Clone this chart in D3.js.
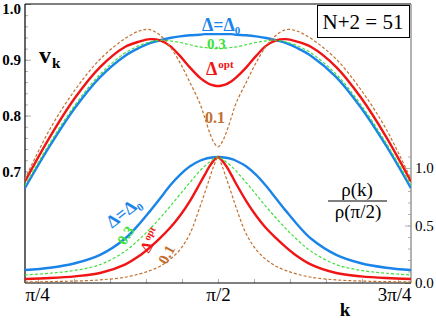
<!DOCTYPE html>
<html>
<head>
<meta charset="utf-8">
<script src="https://cdn.jsdelivr.net/npm/d3@7"></script>
<style>
  body { margin: 0; background: #fff; }
  svg text { font-family: "Liberation Serif", "Times New Roman", "DejaVu Serif", serif; }
</style>
</head>
<body>
<div id="chart"></div>
<script>
// k values (radians), pi/4 .. 3pi/4
var kVals = [0.785,0.887,0.989,1.091,1.192,1.253,1.294,1.335,1.375,1.416,1.457,1.497,1.518,1.538,1.554,1.571,
             1.587,1.603,1.624,1.644,1.685,1.726,1.766,1.807,1.848,1.889,1.950,2.052,2.153,2.255,2.356];

// upper curves, v_k (left axis)
var vBlue  = [0.670,0.746,0.814,0.869,0.907,0.922,0.930,0.935,0.939,0.942,0.944,0.945,0.946,0.946,0.946,0.946,
              0.946,0.946,0.946,0.945,0.944,0.942,0.939,0.935,0.930,0.922,0.907,0.869,0.814,0.746,0.670];
var vGreen = [0.675,0.751,0.819,0.874,0.912,0.926,0.932,0.935,0.934,0.931,0.927,0.923,0.922,0.921,0.920,0.920,
              0.920,0.921,0.922,0.923,0.927,0.931,0.934,0.935,0.932,0.926,0.912,0.874,0.819,0.751,0.675];
var vRed   = [0.682,0.762,0.832,0.887,0.923,0.933,0.937,0.935,0.925,0.907,0.886,0.868,0.861,0.856,0.854,0.853,
              0.854,0.856,0.861,0.868,0.886,0.907,0.925,0.935,0.937,0.933,0.923,0.887,0.832,0.762,0.682];
var vBrown = [0.686,0.776,0.846,0.901,0.938,0.952,0.954,0.944,0.924,0.895,0.859,0.822,0.795,0.768,0.752,0.744,
              0.752,0.768,0.795,0.822,0.859,0.895,0.924,0.944,0.954,0.952,0.938,0.901,0.846,0.776,0.686];

// lower curves, rho(k)/rho(pi/2) (right axis)
var rBlue  = [0.113,0.133,0.172,0.245,0.385,0.520,0.625,0.735,0.845,0.940,1.015,1.063,1.079,1.089,1.094,1.096,
              1.094,1.089,1.079,1.063,1.015,0.940,0.845,0.735,0.625,0.520,0.385,0.245,0.172,0.133,0.113];
var rGreen = [0.070,0.085,0.110,0.160,0.275,0.385,0.470,0.565,0.665,0.770,0.875,0.975,1.018,1.055,1.080,1.096,
              1.080,1.055,1.018,0.975,0.875,0.770,0.665,0.565,0.470,0.385,0.275,0.160,0.110,0.085,0.070];
var rRed   = [0.035,0.043,0.058,0.087,0.160,0.240,0.310,0.390,0.478,0.585,0.715,0.865,0.945,1.020,1.066,1.096,
              1.066,1.020,0.945,0.865,0.715,0.585,0.478,0.390,0.310,0.240,0.160,0.087,0.058,0.043,0.035];
var rBrown = [0.009,0.012,0.017,0.027,0.050,0.080,0.108,0.145,0.205,0.290,0.430,0.660,0.790,0.920,1.020,1.096,
              1.020,0.920,0.790,0.660,0.430,0.290,0.205,0.145,0.108,0.080,0.050,0.027,0.017,0.012,0.009];

var leftTicks = [0.7, 0.8, 0.9, 1.0];
var rightTicks = [0.0, 0.5, 1.0];
var xTickVals = [Math.PI/4, Math.PI/2, 3*Math.PI/4];
var xTickLabels = ['\u03c0/4', '\u03c0/2', '3\u03c0/4'];

var W = 436, H = 320;
var box = {left: 25, right: 411, top: 4, bottom: 283};
var serif = '"Liberation Serif", "Times New Roman", serif';

var svg = d3.select('#chart').append('svg')
    .attr('width', W).attr('height', H);

var x = d3.scaleLinear().domain([Math.PI/4, 3*Math.PI/4]).range([box.left, box.right]);
var yL = d3.scaleLinear().domain([0.5, 1.0]).range([box.bottom, box.top]);
var yR = d3.scaleLinear().domain([0, 1.0]).range([box.bottom, 168]);

svg.append('clipPath').attr('id', 'clip').append('rect')
    .attr('x', box.left).attr('y', box.top)
    .attr('width', box.right - box.left).attr('height', box.bottom - box.top);

var tickGray = '#b0b0b0';

function styleAxis(g){
    g.select('.domain').remove();
    g.selectAll('.tick line').attr('stroke', tickGray);
}

// left axis
svg.append('g').attr('transform', 'translate(' + box.left + ',0)')
    .call(d3.axisLeft(yL).tickValues(d3.range(0.7, 1.001, 0.02)).tickSize(-3).tickFormat(''))
    .call(styleAxis);
svg.append('g').attr('transform', 'translate(' + box.left + ',0)')
    .call(d3.axisLeft(yL).tickValues(leftTicks).tickSize(-6).tickPadding(4).tickFormat(d3.format('.1f')))
    .call(styleAxis)
    .call(g => g.selectAll('text').attr('font-size', '15px').attr('font-weight', 'bold')
        .attr('fill', '#000').style('font-family', serif)
        .attr('dy', d => d == 1.0 ? '0.62em' : '0.32em'));

// right axis
svg.append('g').attr('transform', 'translate(' + box.right + ',0)')
    .call(d3.axisRight(yR).tickValues(d3.range(0, 1.101, 0.1)).tickSize(-3).tickFormat(''))
    .call(styleAxis);
svg.append('g').attr('transform', 'translate(' + box.right + ',0)')
    .call(d3.axisRight(yR).tickValues(rightTicks).tickSize(-6).tickPadding(4).tickFormat(d3.format('.1f')))
    .call(styleAxis)
    .call(g => g.selectAll('text').attr('font-size', '15px')
        .attr('fill', '#000').style('font-family', serif));

// bottom axis ticks
var xStep = 0.1465;
var xMinor = d3.range(-6, 7).map(n => Math.PI/2 + n*xStep).filter(v => v > Math.PI/4 + 0.01 && v < 3*Math.PI/4 - 0.01);
svg.append('g').attr('transform', 'translate(0,' + box.bottom + ')')
    .call(d3.axisBottom(x).tickValues(xMinor).tickSize(-4).tickFormat(''))
    .call(styleAxis);
svg.append('g').attr('transform', 'translate(0,' + box.bottom + ')')
    .call(d3.axisBottom(x).tickValues(xTickVals).tickSize(0).tickPadding(4).tickFormat((d, i) => xTickLabels[i]))
    .call(g => g.select('.domain').remove())
    .call(g => g.selectAll('text').attr('font-size', '19px').attr('fill', '#000')
        .attr('dy', '0.75em')
        .style('font-family', serif)
        .attr('text-anchor', (d, i) => i == 0 ? 'start' : (i == 2 ? 'end' : 'middle')));

// frame
svg.append('line').attr('x1', box.left).attr('x2', box.right).attr('y1', box.top).attr('y2', box.top)
    .attr('stroke', '#000').attr('stroke-width', 1.2);
svg.append('line').attr('x1', box.right).attr('x2', box.right).attr('y1', box.top).attr('y2', box.bottom)
    .attr('stroke', '#999').attr('stroke-width', 1.5);
svg.append('line').attr('x1', box.left).attr('x2', box.left).attr('y1', box.top).attr('y2', box.bottom)
    .attr('stroke', '#000').attr('stroke-width', 1.2);
svg.append('line').attr('x1', box.left).attr('x2', box.right).attr('y1', box.bottom).attr('y2', box.bottom)
    .attr('stroke', '#000').attr('stroke-width', 1.2);

// curves
var blue = '#1a84e8', red = '#f01414', green = '#3ee03a', brown = '#c2702e';

var series = [
    {v: vBlue,  r: rBlue,  color: blue,  w: 2.4, dash: null},
    {v: vRed,   r: rRed,   color: red,   w: 2.4, dash: null},
    {v: vGreen, r: rGreen, color: green, w: 1.2, dash: '3,2'},
    {v: vBrown, r: rBrown, color: brown, w: 1.2, dash: '3,2'}
];

var plot = svg.append('g').attr('clip-path', 'url(#clip)');

var lineL = d3.line().x(d => x(d[0])).y(d => yL(d[1])).curve(d3.curveCatmullRom.alpha(0.5));
var lineR = d3.line().x(d => x(d[0])).y(d => yR(d[1])).curve(d3.curveCatmullRom.alpha(0.5));

series.forEach(function(s){
    plot.append('path')
        .attr('d', lineL(kVals.map((k, i) => [k, s.v[i]])))
        .attr('fill', 'none').attr('stroke', s.color).attr('stroke-width', s.w)
        .attr('stroke-dasharray', s.dash);
    plot.append('path')
        .attr('d', lineR(kVals.map((k, i) => [k, s.r[i]])))
        .attr('fill', 'none').attr('stroke', s.color).attr('stroke-width', s.w)
        .attr('stroke-dasharray', s.dash);
});

// labels
var vk = svg.append('text').attr('x', 39).attr('y', 63).attr('font-weight', 'bold').attr('font-size', '24px');
vk.append('tspan').text('v');
vk.append('tspan').attr('font-size', '15px').attr('dy', 5).attr('dx', 1).text('k');

svg.append('text').attr('x', 345).attr('y', 316).attr('text-anchor', 'middle')
    .attr('font-weight', 'bold').attr('font-size', '19px').text('k');

// N+2 = 51 box
svg.append('rect').attr('x', 317.5).attr('y', 5.5).attr('width', 92).attr('height', 32)
    .attr('fill', '#fff').attr('stroke', '#000').attr('stroke-width', 1);
svg.append('text').attr('x', 363).attr('y', 29).attr('text-anchor', 'middle')
    .attr('font-size', '21px').text('N+2 = 51');

// upper annotations
var t1 = svg.append('text').attr('x', 202).attr('y', 31).attr('fill', blue)
    .attr('font-weight', 'bold').attr('font-size', '18px');
t1.append('tspan').text('\u0394=\u0394');
t1.append('tspan').attr('font-size', '11px').attr('dy', 3).text('0');

svg.append('text').attr('x', 207).attr('y', 49).attr('fill', green)
    .attr('font-weight', 'bold').attr('font-size', '15px').text('0.3');

var t2 = svg.append('text').attr('x', 206).attr('y', 75).attr('fill', red)
    .attr('font-weight', 'bold').attr('font-size', '18px');
t2.append('tspan').text('\u0394');
t2.append('tspan').attr('font-size', '11px').attr('dy', -7).attr('dx', 1).text('opt');

svg.append('text').attr('x', 205).attr('y', 123).attr('fill', brown)
    .attr('font-weight', 'bold').attr('font-size', '16px').text('0.1');

// lower annotations (rotated along curves)
var t3 = svg.append('text').attr('transform', 'translate(127,217) rotate(-38)')
    .attr('text-anchor', 'middle').attr('fill', blue)
    .attr('font-weight', 'bold').attr('font-size', '18px');
t3.append('tspan').text('\u0394=\u0394');
t3.append('tspan').attr('font-size', '11px').attr('dy', 4).text('0');

svg.append('text').attr('transform', 'translate(130,238) rotate(-58)')
    .attr('text-anchor', 'middle').attr('fill', green)
    .attr('font-weight', 'bold').attr('font-size', '15px').text('0.3');

var t4 = svg.append('text').attr('transform', 'translate(155,243) rotate(-60)')
    .attr('text-anchor', 'middle').attr('fill', red)
    .attr('font-weight', 'bold').attr('font-size', '16px');
t4.append('tspan').text('\u0394');
t4.append('tspan').attr('font-size', '10px').attr('dy', -6).attr('dx', 1).text('opt');

svg.append('text').attr('transform', 'translate(171,257) rotate(-62)')
    .attr('text-anchor', 'middle').attr('fill', brown)
    .attr('font-weight', 'bold').attr('font-size', '15px').text('0.1');

// rho(k)/rho(pi/2)
svg.append('text').attr('x', 357).attr('y', 196).attr('text-anchor', 'middle')
    .attr('font-size', '19px').text('\u03c1(k)');
svg.append('line').attr('x1', 328).attr('x2', 387).attr('y1', 201).attr('y2', 201)
    .attr('stroke', '#000').attr('stroke-width', 1);
svg.append('text').attr('x', 358).attr('y', 218).attr('text-anchor', 'middle')
    .attr('font-size', '19px').text('\u03c1(\u03c0/2)');
</script>
</body>
</html>
